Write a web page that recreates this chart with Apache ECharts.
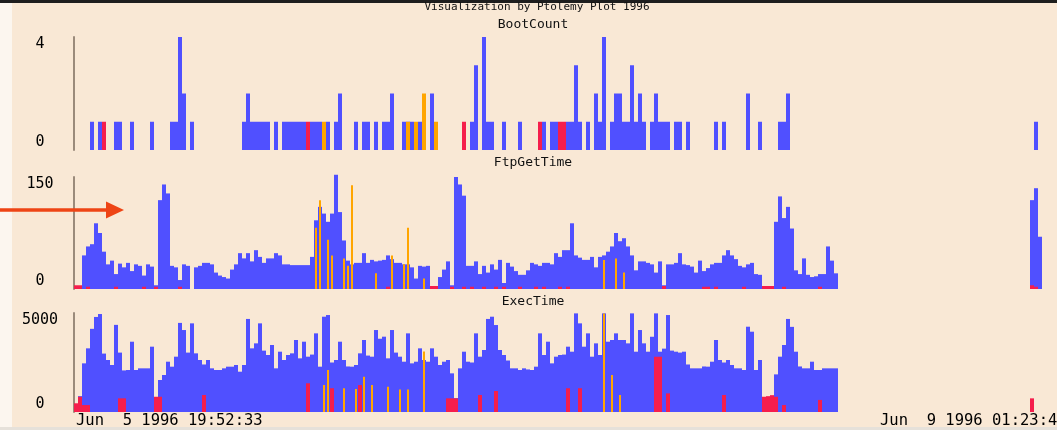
<!DOCTYPE html>
<html>
<head>
<meta charset="utf-8">
<title>BootCount / FtpGetTime / ExecTime</title>
<script src="https://cdn.jsdelivr.net/npm/echarts@6/dist/echarts.min.js"></script>
<style>
  html, body { margin: 0; padding: 0; background: #F9E8D5; }
  #chart { width: 1057px; height: 430px; }
</style>
</head>
<body>
<div id="chart"></div>
<script>
// ---- data: one value per time bin (242 bins from Jun 5 19:52 to Jun 9 01:23) ----
const mainTitle = 'Visualization by Ptolemy Plot 1996';
const panelTitles = ['BootCount', 'FtpGetTime', 'ExecTime'];
const panelMax = [4, 150, 5000];
const timeLabels = ['Jun  5 1996 19:52:33', 'Jun  9 1996 01:23:45'];

const bootBlue = [
  0,0,0,0,1,0,1,0,0,0, 1,1,0,0,1,0,0,0,0,1, 0,0,0,0,1,1,4,2,0,1, 0,0,0,0,0,0,0,0,0,0,
  0,0,1,2,1,1,1,1,1,0, 1,0,1,1,1,1,1,1,0,1, 1,1,0,1,0,1,2,0,0,0, 1,0,1,1,0,1,0,1,1,2,
  0,0,1,1,1,0,1,0,0,2, 0,0,0,0,0,0,0,0,0,1, 3,0,4,1,1,0,0,1,0,0, 0,1,0,0,0,0,0,1,0,1,
  1,0,0,1,1,3,1,0,1,0, 2,1,4,0,1,2,2,1,1,3, 1,2,1,0,1,2,1,1,1,0, 1,1,0,1,0,0,0,0,0,0,
  1,0,1,0,0,0,0,0,2,0, 0,1,0,0,0,0,1,1,2,0, 0,0,0,0,0,0,0,0,0,0, 0,0,0,0,0,0,0,0,0,0,
  0,0,0,0,0,0,0,0,0,0, 0,0,0,0,0,0,0,0,0,0, 0,0,0,0,0,0,0,0,0,0, 0,0,0,0,0,0,0,0,0,0,
  1,0
];
const bootRed = [[7,1],[58,1],[97,1],[116,1],[121,1],[122,1]];
const bootOrange = [[62,1],[83,1],[85,1],[87,2],[90,1]];

const ftpBlue = [
  0,0,45,57,60,88,75,50,33,38, 20,34,29,35,24,33,31,18,33,30, 5,119,140,128,31,29,12,33,31,0,
  29,31,35,35,33,22,18,16,14,26, 33,48,41,48,37,52,43,35,41,41, 48,45,33,33,32,32,32,32,32,43,
  92,110,101,90,101,153,103,65,38,33, 35,35,48,35,39,37,38,39,45,40, 35,35,33,33,29,14,31,30,31,3,
  3,16,26,37,5,150,140,125,31,31, 37,20,31,22,33,26,39,8,35,30, 24,19,19,25,35,33,31,35,35,33,
  48,43,52,52,88,45,42,39,39,43, 29,43,45,50,57,75,64,68,57,45, 25,37,37,35,33,22,37,5,33,33,
  35,48,33,32,30,22,38,24,28,33, 35,35,45,52,45,40,31,29,33,35, 20,19,0,0,0,90,124,95,110,81,
  25,20,41,19,16,17,20,20,57,38, 21,0,0,0,0,0,0,0,0,0, 0,0,0,0,0,0,0,0,0,0, 0,0,0,0,0,0,0,0,0,0,
  0,0,0,0,0,0,0,0,0,0, 0,0,0,0,0,0,0,0,0,119, 135,70
];
const ftpRed = [[0,5],[1,5],[3,3],[10,3],[17,3],[20,3],[26,3],[78,3],[89,4],[90,4],[94,3],[97,3],
  [99,3],[102,3],[105,3],[107,3],[111,3],[115,3],[117,3],[121,3],[123,3],[147,4],[157,3],[158,3],
  [160,3],[167,3],[172,4],[173,4],[174,4],[177,3],[186,3],[239,5],[240,3]];
const ftpOrange = [[60,82],[61,119],[63,66],[64,45],[67,41],[68,31],[69,139],[75,21],[79,45],
  [82,33],[83,82],[87,14],[132,39],[135,41],[137,22]];

const execBlue = [
  0,800,2457,3215,4200,4800,4948,2950,2625,2373, 4400,3000,2100,2121,3550,2121,2205,2205,2205,3299,
  0,1616,1868,2541,2289,2794,4500,4140,3000,4477, 2962,2625,2400,2625,2205,2121,2121,2205,2289,2289,
  2373,2036,2373,4700,3215,3467,4477,3100,2878,3383, 2205,3046,2625,2878,2962,3635,2710,3551,2794,2900,
  3972,2289,4813,4897,2500,2625,3551,2625,2300,2289, 2373,2962,3635,2850,2794,4140,3700,3804,2710,4140,
  3000,2794,2541,3972,2457,2541,3215,2625,2541,3215, 2794,2373,2541,2625,1952,700,2205,3046,2541,2500,
  3972,2794,3130,4700,4813,4392,3130,2878,2600,2205, 2205,2121,2205,2150,2121,2289,3972,2878,3551,2457,
  2794,2878,2900,3299,3046,4981,4477,3299,3972,2794, 3467,2878,4981,3551,3635,3972,3635,3635,3467,4981,
  3046,4140,3467,3046,3800,4981,3046,3200,4897,3100, 3046,3000,3046,2400,2205,2205,2205,2300,2289,2541,
  3635,2625,2500,2625,2373,2205,2205,2121,4308,4056, 2121,2625,0,0,0,1900,2794,3383,4700,4300,
  3046,2300,2205,2205,2541,2121,2121,2205,2205,2205, 2205,0,0,0,0,0,0,0,0,0, 0,0,0,0,0,0,0,0,0,0,
  0,0,0,0,0,0,0,0,0,0, 0,0,0,0,0,0,0,0,0,0, 0,0,0,0,0,0,0,0,0,0, 0,0,0,0,0,0,0,0,0,1450,
  2036,1800
];
const execRed = [[0,440],[1,770],[2,350],[3,350],[11,690],[12,690],[20,770],[21,770],[32,860],
  [58,1450],[64,1200],[71,1360],[93,690],[94,690],[95,690],[101,860],[105,1060],[123,1200],
  [126,1200],[145,2790],[146,2790],[148,940],[162,860],[172,770],[173,800],[174,850],[175,770],
  [177,350],[186,610],[239,690]];
const execOrange = [[62,1360],[63,2120],[67,1200],[70,1160],[72,1780],[74,1360],[78,1280],
  [81,1140],[83,1140],[87,3050],[132,4980],[134,1870],[136,860]];

// ---- chart ----
const binCount = bootBlue.length;
const bins = [];
for (let i = 0; i < binCount; i++) bins.push(String(i));

const BLUE = '#5050FF', RED = '#F51E4C', ORANGE = '#FFA500';
const MONO = '"DejaVu Sans Mono", "Liberation Mono", monospace';
const grids = [
  { left: 74, width: 968, top: 37, height: 113 },
  { left: 74, width: 968, top: 177, height: 112 },
  { left: 74, width: 968, top: 313, height: 99 }
];
const titleCenters = [25, 163, 302];
const orangeWidth = [4, 2, 2];
const panels = [
  [bootBlue, bootRed, bootOrange],
  [ftpBlue, ftpRed, ftpOrange],
  [execBlue, execRed, execOrange]
];

const xAxis = [];
const yAxis = [];
const series = [];
for (let k = 0; k < 3; k++) {
  // primary band axis (blue + red), plus a twin for the thin orange marks
  xAxis.push({ type: 'category', gridIndex: k, data: bins, show: false });
  yAxis.push({
    type: 'value', gridIndex: k, min: 0, max: panelMax[k], interval: panelMax[k],
    splitLine: { show: false }, axisTick: { show: false },
    axisLine: { show: true, lineStyle: { color: '#9B8B7B', width: 2 } },
    axisLabel: {
      show: true, margin: 34, align: 'center', color: '#000',
      fontFamily: MONO, fontSize: 15,
      formatter: v => String(v),
      verticalAlignMinLabel: 'bottom', verticalAlignMaxLabel: 'top'
    }
  });
}
for (let k = 0; k < 3; k++) {
  xAxis.push({ type: 'category', gridIndex: k, data: bins, show: false });
}
for (let k = 0; k < 3; k++) {
  const [blue, red, orange] = panels[k];
  series.push({
    type: 'bar', xAxisIndex: k, yAxisIndex: k, data: blue,
    barCategoryGap: '0%', barGap: '-100%', clip: false, silent: true,
    itemStyle: { color: BLUE }
  });
  series.push({
    type: 'bar', xAxisIndex: k, yAxisIndex: k, data: red,
    barCategoryGap: '0%', barGap: '-100%', clip: false, silent: true,
    itemStyle: { color: RED }
  });
  series.push({
    type: 'bar', xAxisIndex: k + 3, yAxisIndex: k, data: orange,
    barWidth: orangeWidth[k], clip: false, silent: true,
    itemStyle: { color: ORANGE }
  });
}

const titles = [{
  text: mainTitle, left: 537, top: 2, textAlign: 'center', padding: 0,
  textStyle: { fontFamily: MONO, fontSize: 11, fontWeight: 'normal', color: '#111' }
}];
for (let k = 0; k < 3; k++) {
  titles.push({
    text: panelTitles[k], left: 533, top: titleCenters[k] - 7, textAlign: 'center', padding: 0,
    textStyle: { fontFamily: MONO, fontSize: 13, fontWeight: 'normal', color: '#111' }
  });
}

const chart = echarts.init(document.getElementById('chart'), null, { renderer: 'canvas' });
chart.setOption({
  backgroundColor: '#F9E8D5',
  animation: false,
  title: titles,
  grid: grids,
  xAxis: xAxis,
  yAxis: yAxis,
  series: series,
  graphic: [
    { type: 'rect', z: -10, shape: { x: 0, y: 0, width: 12, height: 430 }, style: { fill: '#FCF6EF' } },
    { type: 'rect', shape: { x: 0, y: 0, width: 1057, height: 3 }, style: { fill: '#1E1E1E' } },
    { type: 'rect', shape: { x: 0, y: 427, width: 1057, height: 3 }, style: { fill: '#E6E1DA' } },
    {
      type: 'polygon', z: 100,
      shape: { points: [[0, 208.3], [106, 208.3], [106, 201.5], [124, 210], [106, 218.5], [106, 211.7], [0, 211.7]] },
      style: { fill: '#EE4415' }
    },
    {
      type: 'text', left: 76, top: 413,
      style: { text: timeLabels[0], font: '15.5px ' + MONO, fill: '#000' }
    },
    {
      type: 'text', left: 880, top: 413,
      style: { text: timeLabels[1], font: '15.5px ' + MONO, fill: '#000' }
    }
  ]
});
</script>
</body>
</html>
